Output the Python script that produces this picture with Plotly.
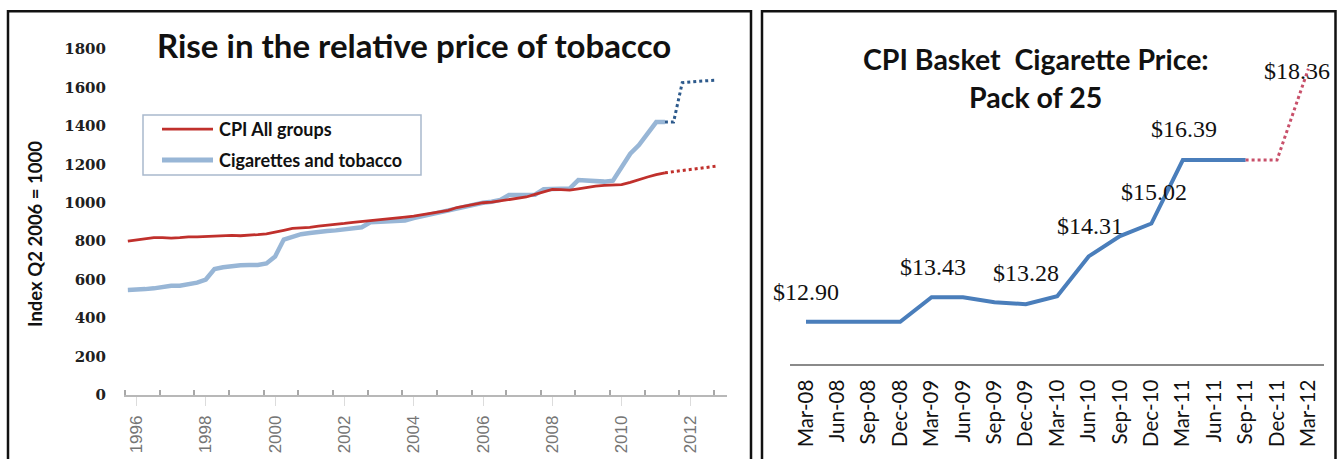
import plotly.graph_objects as go

W, H = 1338, 459

# vertical calibration of the capture (target image px -> layout px)
V_SCALE, V_OFF = 0.962, 6.8


def yd(t):
    return (t - V_OFF) / V_SCALE


def px(x):
    return x / W


def py(t):
    return (H - yd(t)) / H


# ---------------- Left chart data (quarterly, first quarter = Sep-1995) ----------------
QUARTER_START = 1995.75
QUARTER_STEP = 0.25

cpi_all_groups = [
    800, 805, 812, 818, 818, 816, 818, 822, 822, 824, 828, 830, 830, 828, 830, 834,
    838, 846, 856, 866, 868, 872, 878, 882, 886, 892, 898, 902, 906, 910, 914, 920,
    925, 930, 938, 945, 952, 960, 975, 983, 992, 1000, 1003, 1010, 1016, 1022, 1030,
    1044, 1058, 1070, 1068, 1066, 1072, 1080, 1086, 1090, 1092, 1094, 1106, 1122, 1134,
    1146, 1156,
]
cigarettes_tobacco = [
    546, 546, 550, 554, 564, 568, 568, 574, 584, 600, 655, 664, 670, 674, 676, 676,
    684, 720, 808, 822, 836, 842, 850, 853, 856, 862, 866, 872, 898, 900, 902, 904,
    908, 920, 930, 940, 955, 965, 975, 985, 995, 1000, 1005, 1015, 1040, 1040, 1040,
    1042, 1070, 1072, 1072, 1074, 1118, 1116, 1112, 1110, 1115, 1190, 1255, 1300, 1360,
    1420, 1420,
]
cpi_all_groups_proj = [1156, 1162, 1168, 1174, 1180, 1186, 1191]
cigarettes_tobacco_proj = [1420, 1420, 1625, 1630, 1633, 1636, 1638]

left_year_ticks = [1996, 1998, 2000, 2002, 2004, 2006, 2008, 2010, 2012]
left_y_ticks = [0, 200, 400, 600, 800, 1000, 1200, 1400, 1600, 1800]
left_title = "Rise in the relative price of tobacco"
left_y_title = "Index Q2 2006 = 1000"
legend_names = ["CPI All groups", "Cigarettes and tobacco"]

# ---------------- Right chart data ----------------
right_quarters = [
    "Mar-08", "Jun-08", "Sep-08", "Dec-08", "Mar-09", "Jun-09", "Sep-09", "Dec-09",
    "Mar-10", "Jun-10", "Sep-10", "Dec-10", "Mar-11", "Jun-11", "Sep-11", "Dec-11", "Mar-12",
]
pack_price = [12.90, 12.90, 12.90, 12.90, 13.43, 13.43, 13.32, 13.28,
              13.45, 14.31, 14.75, 15.02, 16.39, 16.39, 16.39]
pack_price_proj = [16.39, 16.39, 18.36]
price_label_quarters = ["Mar-08", "Mar-09", "Dec-09", "Jun-10", "Dec-10", "Mar-11", "Mar-12"]
price_label_texts = ["$12.90", "$13.43", "$13.28", "$14.31", "$15.02", "$16.39", "$18.36"]
price_label_values = [12.90, 13.43, 13.28, 14.31, 15.02, 16.39, 18.36]
right_title_lines = ["CPI Basket  Cigarette Price:", "Pack of 25"]

# styling offsets (target pixels) for data labels: (xshift, yshift)
label_shifts = [(0, 29), (1, 29), (0, 30), (1, 29), (3, 30), (1, 30), (-11, -2)]

# ---------------- Build figure ----------------
n = len(cpi_all_groups)
x_left = [QUARTER_START + QUARTER_STEP * i for i in range(n)]
x_left_proj = [QUARTER_START + QUARTER_STEP * (n - 1 + i) for i in range(len(cpi_all_groups_proj))]

RED = "#c0302c"
BLUE_LIGHT = "#98b6d6"
BLUE_DARK = "#2d5a8c"

fig = go.Figure()

fig.add_trace(go.Scatter(x=x_left, y=cigarettes_tobacco, mode="lines",
                         line=dict(color=BLUE_LIGHT, width=4.5), showlegend=False,
                         xaxis="x", yaxis="y"))
fig.add_trace(go.Scatter(x=x_left_proj, y=cigarettes_tobacco_proj, mode="lines",
                         line=dict(color=BLUE_DARK, width=3, dash="dot"), showlegend=False,
                         xaxis="x", yaxis="y"))
fig.add_trace(go.Scatter(x=x_left, y=cpi_all_groups, mode="lines",
                         line=dict(color=RED, width=2.8), showlegend=False,
                         xaxis="x", yaxis="y"))
fig.add_trace(go.Scatter(x=x_left_proj, y=cpi_all_groups_proj, mode="lines",
                         line=dict(color=RED, width=3, dash="dot"), showlegend=False,
                         xaxis="x", yaxis="y"))

fig.add_trace(go.Scatter(x=right_quarters[:len(pack_price)], y=pack_price, mode="lines",
                         line=dict(color="#4a7ebb", width=4), showlegend=False,
                         xaxis="x2", yaxis="y2"))
fig.add_trace(go.Scatter(x=right_quarters[len(pack_price) - 1:], y=pack_price_proj, mode="lines",
                         line=dict(color="#c8506a", width=3, dash="dot"), showlegend=False,
                         xaxis="x2", yaxis="y2"))

# ---- axis geometry (target pixels) ----
L_X0, L_X1 = 124, 727
L_Y_TOP, L_Y_BOT = 47, 393
YEAR_1996_PX = 136.5
left_px_per_year = 34.65
left_range = [1996 + (L_X0 - YEAR_1996_PX) / left_px_per_year,
              1996 + (L_X1 - YEAR_1996_PX) / left_px_per_year]
minor_tick0 = 1996 + (125 - YEAR_1996_PX) / left_px_per_year

R_X0, R_X1 = 790.3, 1324.1
R_Y_TOP, R_Y_BOT = 40, 362
# price 12.90 sits at 320px, 16.39 at 158px (target)
r_dpp = (yd(320) - yd(158)) / (16.39 - 12.90)  # design px per dollar
r_ymin = 12.90 - (yd(R_Y_BOT) - yd(320)) / r_dpp
r_ymax = 12.90 + (yd(320) - yd(R_Y_TOP)) / r_dpp

FONT_C = "Lato"

fig.update_layout(
    width=W, height=H,
    margin=dict(l=0, r=0, t=0, b=0),
    paper_bgcolor="white", plot_bgcolor="white",
    showlegend=False,
    xaxis=dict(
        domain=[px(L_X0), px(L_X1)], range=left_range, anchor="y",
        showgrid=False, zeroline=False,
        showline=True, linecolor="#b8b8b8", linewidth=2,
        tickvals=left_year_ticks, ticktext=[str(v) for v in left_year_ticks],
        ticks="outside", ticklen=9, tickcolor="#dcdcdc", tickwidth=1,
        tickangle=-90, ticklabelstandoff=3,
        tickfont=dict(family="Liberation Sans, Arial", size=17, color="#757575"),
        minor=dict(ticks="inside", tick0=minor_tick0, dtick=1, ticklen=5,
                   tickcolor="#a8a8a8", tickwidth=1.5, showgrid=False),
    ),
    yaxis=dict(
        domain=[py(L_Y_BOT), py(L_Y_TOP)], range=[0, 1800], anchor="x",
        showgrid=False, zeroline=False, showline=False,
        tickvals=left_y_ticks, ticks="", ticklabelstandoff=17,
        tickfont=dict(family="DejaVu Serif", size=15, color="#202020", weight="bold"),
    ),
    xaxis2=dict(
        domain=[px(R_X0), px(R_X1)], type="category",
        categoryorder="array", categoryarray=right_quarters,
        range=[-0.5, len(right_quarters) - 0.5], anchor="y2",
        showgrid=False, zeroline=False,
        showline=True, linecolor="#8a8a8a", linewidth=1.5,
        ticks="", tickangle=-90, ticklabelstandoff=6,
        tickfont=dict(family=FONT_C, size=20.5, color="#111111"),
    ),
    yaxis2=dict(
        domain=[py(R_Y_BOT), py(R_Y_TOP)], range=[r_ymin, r_ymax], anchor="x2",
        visible=False,
    ),
)

annotations = []
annotations.append(dict(xref="paper", yref="paper", x=px(414), y=py(43), text=left_title,
                        showarrow=False, xanchor="center", yanchor="middle",
                        font=dict(family=FONT_C, size=33, color="#111111", weight="bold")))
annotations.append(dict(xref="paper", yref="paper", x=px(35), y=py(232), text=left_y_title,
                        showarrow=False, textangle=-90, xanchor="center", yanchor="middle",
                        font=dict(family=FONT_C, size=18.5, color="#111111", weight="bold")))
annotations.append(dict(xref="paper", yref="paper", x=px(217), y=py(127), text=legend_names[0],
                        showarrow=False, xanchor="left", yanchor="middle",
                        font=dict(family=FONT_C, size=18, color="#111111", weight="bold")))
annotations.append(dict(xref="paper", yref="paper", x=px(217), y=py(158), text=legend_names[1],
                        showarrow=False, xanchor="left", yanchor="middle",
                        font=dict(family=FONT_C, size=18, color="#111111", weight="bold")))
annotations.append(dict(xref="paper", yref="paper", x=px(1036), y=py(57), text=right_title_lines[0],
                        showarrow=False, xanchor="center", yanchor="middle",
                        font=dict(family=FONT_C, size=28.5, color="#111111", weight="bold")))
annotations.append(dict(xref="paper", yref="paper", x=px(1035), y=py(95), text=right_title_lines[1],
                        showarrow=False, xanchor="center", yanchor="middle",
                        font=dict(family=FONT_C, size=28.5, color="#111111", weight="bold")))
for q, t, v, (dx, dy) in zip(price_label_quarters, price_label_texts, price_label_values, label_shifts):
    annotations.append(dict(xref="x2", yref="y2", x=q, y=v, text=t, showarrow=False,
                            xanchor="center", yanchor="middle", xshift=dx, yshift=dy / V_SCALE,
                            font=dict(family="Liberation Serif", size=24, color="#111111")))

shapes = []
shapes.append(dict(type="rect", xref="paper", yref="paper", x0=px(8), x1=px(751), y0=py(480), y1=py(9),
                   line=dict(color="#111111", width=2.5), layer="above"))
shapes.append(dict(type="rect", xref="paper", yref="paper", x0=px(762), x1=px(1335.5), y0=py(480), y1=py(9),
                   line=dict(color="#111111", width=2.5), layer="above"))
shapes.append(dict(type="rect", xref="paper", yref="paper", x0=px(143), x1=px(421), y0=py(173), y1=py(113),
                   line=dict(color="#a9b9cd", width=1.5), fillcolor="rgba(0,0,0,0)"))
shapes.append(dict(type="line", xref="paper", yref="paper", x0=px(162), x1=px(213), y0=py(127), y1=py(127),
                   line=dict(color=RED, width=2.8)))
shapes.append(dict(type="line", xref="paper", yref="paper", x0=px(162), x1=px(213), y0=py(158), y1=py(158),
                   line=dict(color=BLUE_LIGHT, width=5)))

fig.update_layout(annotations=annotations, shapes=shapes)

fig.write_html("out.html")
